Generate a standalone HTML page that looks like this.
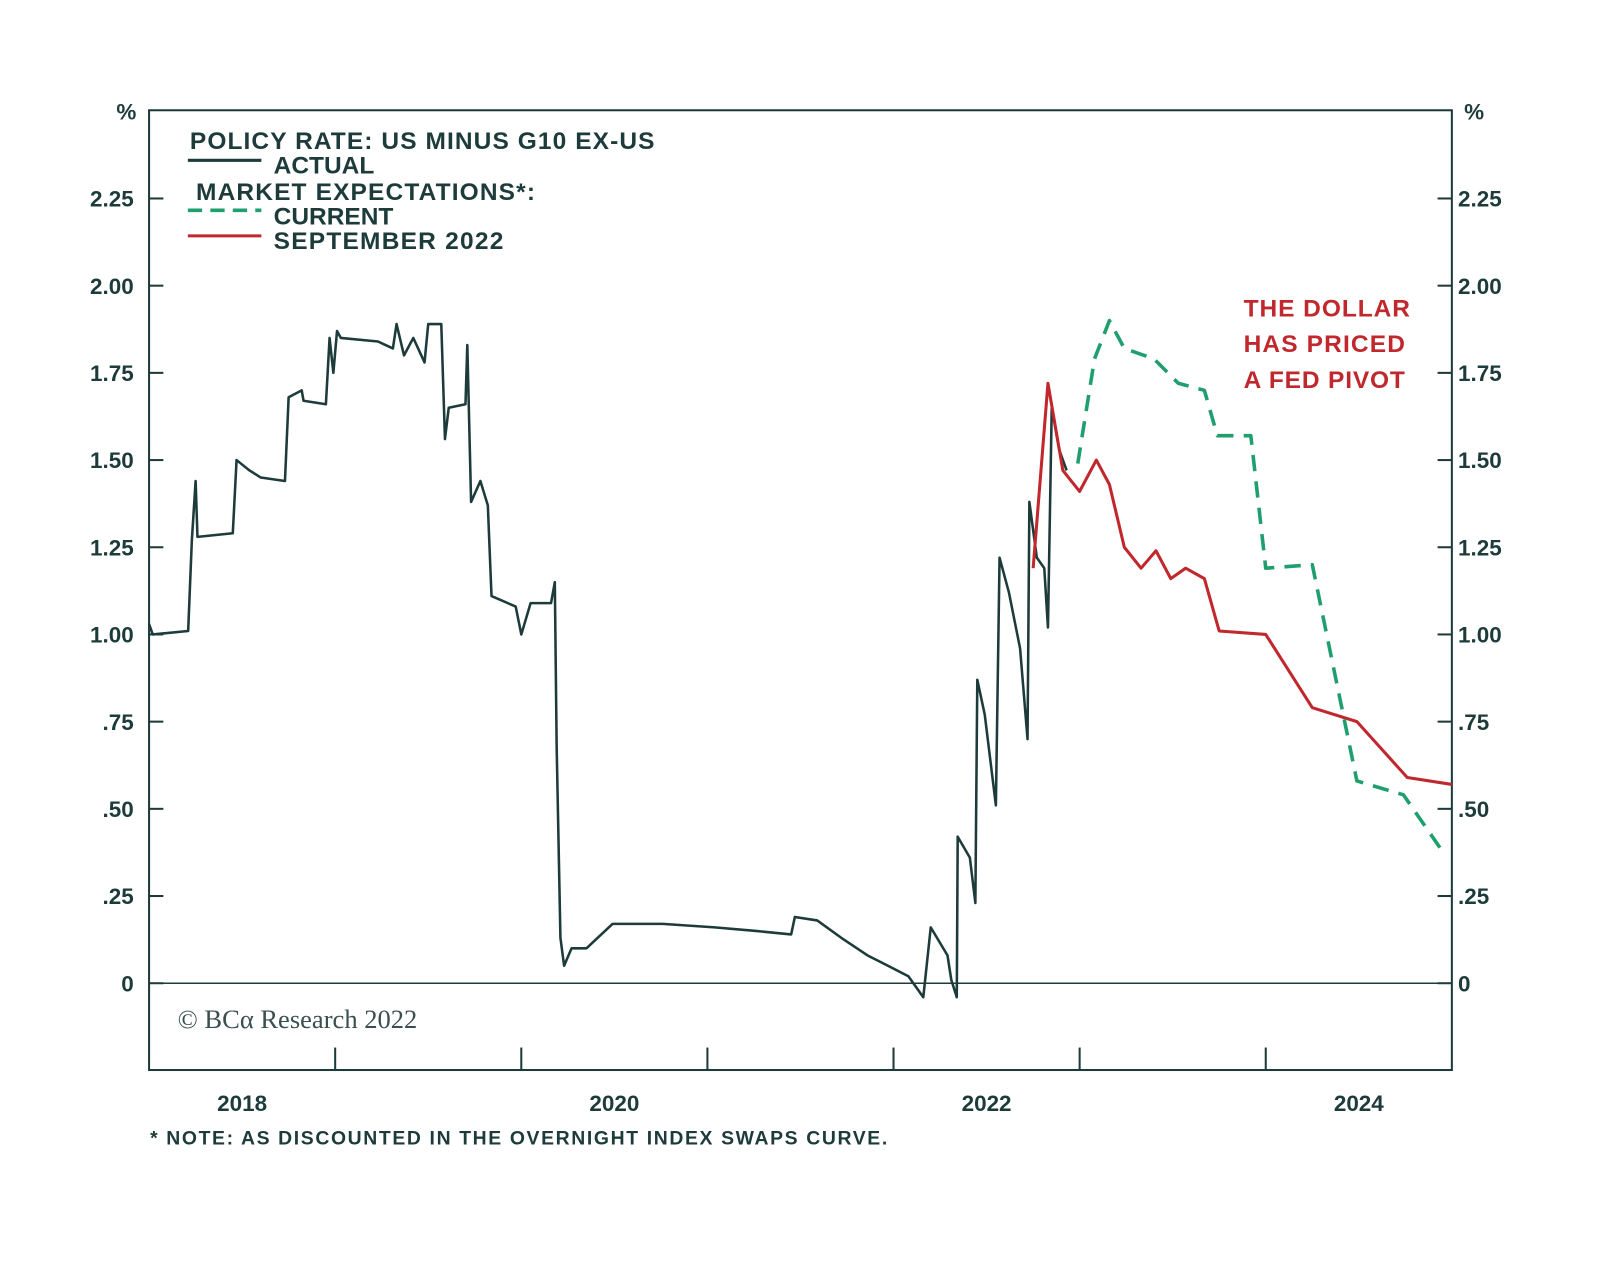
<!DOCTYPE html>
<html><head><meta charset="utf-8"><style>
body{margin:0;background:#fff;}
svg{display:block;font-family:"Liberation Sans",sans-serif;}
</style></head><body>
<svg width="1600" height="1261" viewBox="0 0 1600 1261"><g id="chart" transform="scale(1.021)"></g></svg>
<script>
const actualX=[0,.02,.21,.23,.25,.26,.45,.47,.54,.60,.73,.75,.82,.83,.95,.97,.99,1.01,1.03,1.23,1.31,1.33,1.37,1.42,1.48,1.50,1.57,1.59,1.61,1.70,1.71,1.73,1.78,1.82,1.84,1.97,2.00,2.05,2.16,2.18,2.19,2.21,2.23,2.27,2.35,2.49,2.76,3.04,3.26,3.45,3.47,3.59,3.72,3.86,3.97,4.08,4.16,4.20,4.29,4.31,4.34,4.345,4.41,4.44,4.45,4.49,4.55,4.57,4.62,4.68,4.72,4.73,4.77,4.81,4.83,4.85,4.89,4.93];
const actualY=[1.03,1.00,1.01,1.27,1.44,1.28,1.29,1.50,1.47,1.45,1.44,1.68,1.70,1.67,1.66,1.85,1.75,1.87,1.85,1.84,1.82,1.89,1.80,1.85,1.78,1.89,1.89,1.56,1.65,1.66,1.83,1.38,1.44,1.37,1.11,1.08,1.00,1.09,1.09,1.15,0.68,0.13,0.05,0.10,0.10,0.17,0.17,0.16,0.15,0.14,0.19,0.18,0.13,0.08,0.05,0.02,-0.04,0.16,0.08,0.01,-0.04,0.42,0.36,0.23,0.87,0.77,0.51,1.22,1.12,0.96,0.70,1.38,1.22,1.19,1.02,1.65,1.53,1.47];
const sepX=[4.75,4.83,4.91,5.00,5.09,5.16,5.24,5.33,5.41,5.49,5.57,5.67,5.75,6.00,6.25,6.49,6.76,7.00];
const sepY=[1.19,1.72,1.47,1.41,1.50,1.43,1.25,1.19,1.24,1.16,1.19,1.16,1.01,1.00,0.79,0.75,0.59,0.57];
const curX=[4.99,5.08,5.16,5.24,5.40,5.53,5.67,5.74,5.92,6.00,6.25,6.49,6.74,6.96];
const curY=[1.49,1.79,1.90,1.82,1.79,1.72,1.70,1.57,1.57,1.19,1.20,0.58,0.54,0.37];
const yTicks=[0,0.25,0.5,0.75,1.0,1.25,1.5,1.75,2.0,2.25];
const yLabels=["0",".25",".50",".75","1.00","1.25","1.50","1.75","2.00","2.25"];
const yearLabels=["2018","2020","2022","2024"];
const yearPos=[0.5,2.5,4.5,6.5];

const L=146,R=1422,T=108,B=1048;
const xs=v=>L+v*(R-L)/7;
const ys=v=>963-v*341.6;
const svg=document.getElementById('chart');
const NS='http://www.w3.org/2000/svg';
function mk(tag,attrs,parent){const e=document.createElementNS(NS,tag);for(const k in attrs)e.setAttribute(k,attrs[k]);(parent||svg).appendChild(e);return e;}
const C='#1d3b3a';
let f=mk('rect',{x:L,y:T,width:R-L,height:B-T,fill:'none',stroke:C,'stroke-width':2});

let z=mk('line',{x1:L,x2:R,y1:ys(0),y2:ys(0),stroke:C,'stroke-width':1.5});

yTicks.forEach((v,i)=>{
  mk('line',{x1:L,x2:L+14,y1:ys(v),y2:ys(v),stroke:C,'stroke-width':2});
  mk('line',{x1:R-14,x2:R,y1:ys(v),y2:ys(v),stroke:C,'stroke-width':2});
  let t=mk('text',{x:131,y:ys(v)+8,'text-anchor':'end','font-size':22,'font-weight':'bold',fill:C});t.textContent=yLabels[i];
  
  let t2=mk('text',{x:1428,y:ys(v)+8,'font-size':22,'font-weight':'bold',fill:C});t2.textContent=yLabels[i];
  
});
for(let k=1;k<7;k++){mk('line',{x1:xs(k),x2:xs(k),y1:B-22,y2:B,stroke:C,'stroke-width':2});}
yearLabels.forEach((s,i)=>{let t=mk('text',{x:xs(yearPos[i]),y:1088,'text-anchor':'middle','font-size':22,'font-weight':'bold',fill:C});t.textContent=s;
  });
[114,1434].forEach(x=>{let t=mk('text',{x:x,y:117,'font-size':22,'font-weight':'bold',fill:C});t.textContent='%';
  });
function line(X,Y,stroke,extra,name){const d=X.map((v,i)=>(i?'L':'M')+xs(v).toFixed(1)+','+ys(Y[i]).toFixed(1)).join('');
  const p=mk('path',Object.assign({d,fill:'none',stroke,'stroke-width':3,'stroke-linejoin':'round'},extra));
  }
line(actualX,actualY,C,{'stroke-width':2.5},'actual-line');
line(sepX,sepY,'#c0282d',{},'september-2022-line');
line(curX,curY,'#1f9e6e',{'stroke-dasharray':'16,10','stroke-width':3.5},'current-line');
function txt(x,y,s,sz,fill,name,extra){const t=mk('text',Object.assign({x,y,'font-size':sz,'font-weight':'bold',fill},extra||{}));t.textContent=s;
  return t;}
txt(186,146,'POLICY RATE: US MINUS G10 EX-US',24,C,'legend-title',{textLength:455});
mk('line',{x1:184,x2:256,y1:157,y2:157,stroke:C,'stroke-width':3});
txt(268,170,'ACTUAL',24,C,'legend-actual');
txt(192,196,'MARKET EXPECTATIONS*:',24,C,'legend-subtitle',{textLength:332});
mk('line',{x1:184,x2:256,y1:206,y2:206,stroke:'#1f9e6e','stroke-width':3.5,'stroke-dasharray':'14,8'});
txt(268,220,'CURRENT',24,C,'legend-current');
mk('line',{x1:184,x2:256,y1:231,y2:231,stroke:'#c0282d','stroke-width':3});
txt(268,244,'SEPTEMBER 2022',24,C,'legend-september',{textLength:225});
txt(1218,310,'THE DOLLAR',24,'#c0282d','annotation-line1',{textLength:163});
txt(1218,345,'HAS PRICED',24,'#c0282d','annotation-line2',{textLength:158});
txt(1218,380,'A FED PIVOT',24,'#c0282d','annotation-line3',{textLength:158});
txt(174,1007,'© BCα Research 2022',26,'#3a4f4e','copyright',{'font-weight':'normal','font-family':'Liberation Serif,serif'});
txt(147,1121,'* NOTE: AS DISCOUNTED IN THE OVERNIGHT INDEX SWAPS CURVE.',19,C,'footnote',{textLength:722});
</script>
</body></html>
